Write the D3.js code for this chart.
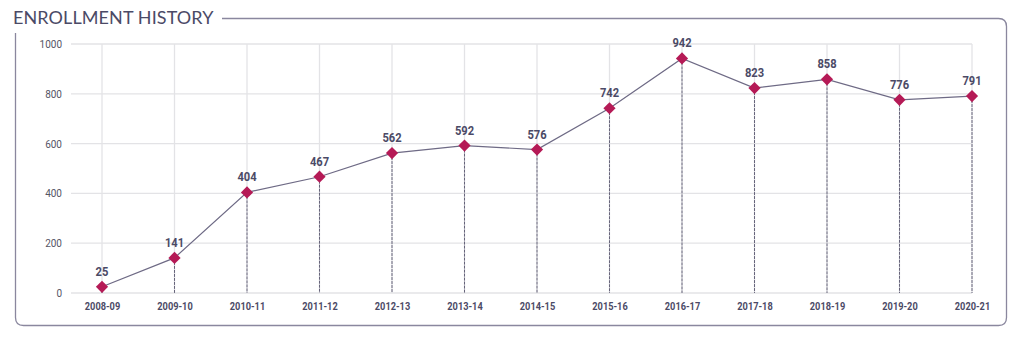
<!DOCTYPE html>
<html><head><meta charset="utf-8">
<script src="https://cdn.jsdelivr.net/npm/d3@7"></script>
<style>
body{margin:0;background:#fff;}
svg{display:block;}
</style></head>
<body>
<svg id="c" width="1024" height="337"></svg>
<script>
const years = ["2008-09","2009-10","2010-11","2011-12","2012-13","2013-14","2014-15","2015-16","2016-17","2017-18","2018-19","2019-20","2020-21"];
const enrollment = [25,141,404,467,562,592,576,742,942,823,858,776,791];
const yTicks = [0,200,400,600,800,1000];
const title = "ENROLLMENT HISTORY";

const svg = d3.select("#c");
const ink = "#4b4a66";
const cond = "'Roboto','Liberation Sans',sans-serif";

// frame
const fx0 = 15.5, fx1 = 1006.5, fy0 = 18.5, fy1 = 325.5, r = 8;
svg.append("path")
  .attr("d", `M222,${fy0} L${fx1-r},${fy0} Q${fx1},${fy0} ${fx1},${fy0+r} L${fx1},${fy1-r} Q${fx1},${fy1} ${fx1-r},${fy1} L${fx0+r},${fy1} Q${fx0},${fy1} ${fx0},${fy1-r} L${fx0},33`)
  .attr("fill","none").attr("stroke","#8a879e").attr("stroke-width",1.3);

svg.append("text").attr("x",13).attr("y",24).text(title)
  .attr("font-family","'Lato','Open Sans',sans-serif").attr("font-size",18)
  .attr("fill",ink).attr("letter-spacing","0.1");

const x = d3.scalePoint().domain(years).range([102,972]);
const y = d3.scaleLinear().domain([0,1000]).range([293,44]);

// horizontal grid
svg.append("g").selectAll("line").data(yTicks).join("line")
  .attr("x1",71).attr("x2",972).attr("y1",d=>y(d)).attr("y2",d=>y(d))
  .attr("stroke","#e3e3e6").attr("stroke-width",1.3);
// vertical grid
svg.append("g").selectAll("line").data(years).join("line")
  .attr("x1",d=>x(d)).attr("x2",d=>x(d)).attr("y1",y(1000)).attr("y2",y(0))
  .attr("stroke","#e3e3e6").attr("stroke-width",1.3);

// y axis
const ya = svg.append("g").attr("transform","translate(62,0)")
  .call(d3.axisLeft(y).tickValues(yTicks).tickSize(0).tickPadding(0).tickFormat(d3.format("d")));
ya.select(".domain").remove();
ya.selectAll("text").attr("font-family","'Roboto','Liberation Sans',sans-serif")
  .attr("font-size",10).attr("fill","#555566").attr("dy","0.35em");

// x axis
const xa = svg.append("g").attr("transform",`translate(0,${y(0)})`)
  .call(d3.axisBottom(x).tickSize(0).tickPadding(9));
xa.select(".domain").remove();
xa.selectAll("text").attr("font-family",cond).attr("font-weight","bold")
  .attr("font-size",11).attr("fill",ink).attr("transform","scale(0.84,1)");

const data = years.map((yr,i)=>({yr, v:enrollment[i]}));

// dashed drop lines
svg.append("g").selectAll("line").data(data).join("line")
  .attr("x1",d=>x(d.yr)).attr("x2",d=>x(d.yr)).attr("y1",d=>y(d.v)).attr("y2",y(0))
  .attr("stroke","#66647a").attr("stroke-width",1).attr("stroke-dasharray","3,1");

// line
svg.append("path").datum(data)
  .attr("d", d3.line().x(d=>x(d.yr)).y(d=>y(d.v)))
  .attr("fill","none").attr("stroke","#6e6a85").attr("stroke-width",1.2);

// markers
svg.append("g").selectAll("path").data(data).join("path")
  .attr("transform",d=>`translate(${x(d.yr)},${y(d.v)})`)
  .attr("d", d3.symbol().type(d3.symbolDiamond2).size(95))
  .attr("fill","#b51a56");

// labels
svg.append("g").selectAll("g").data(data).join("g")
  .attr("transform",d=>`translate(${x(d.yr)},${y(d.v)-11})`)
  .append("text")
  .attr("text-anchor","middle").text(d=>d.v)
  .attr("transform","scale(0.86,1)")
  .attr("font-family",cond).attr("font-weight","bold").attr("font-size",13).attr("fill",ink);
</script>
</body></html>
